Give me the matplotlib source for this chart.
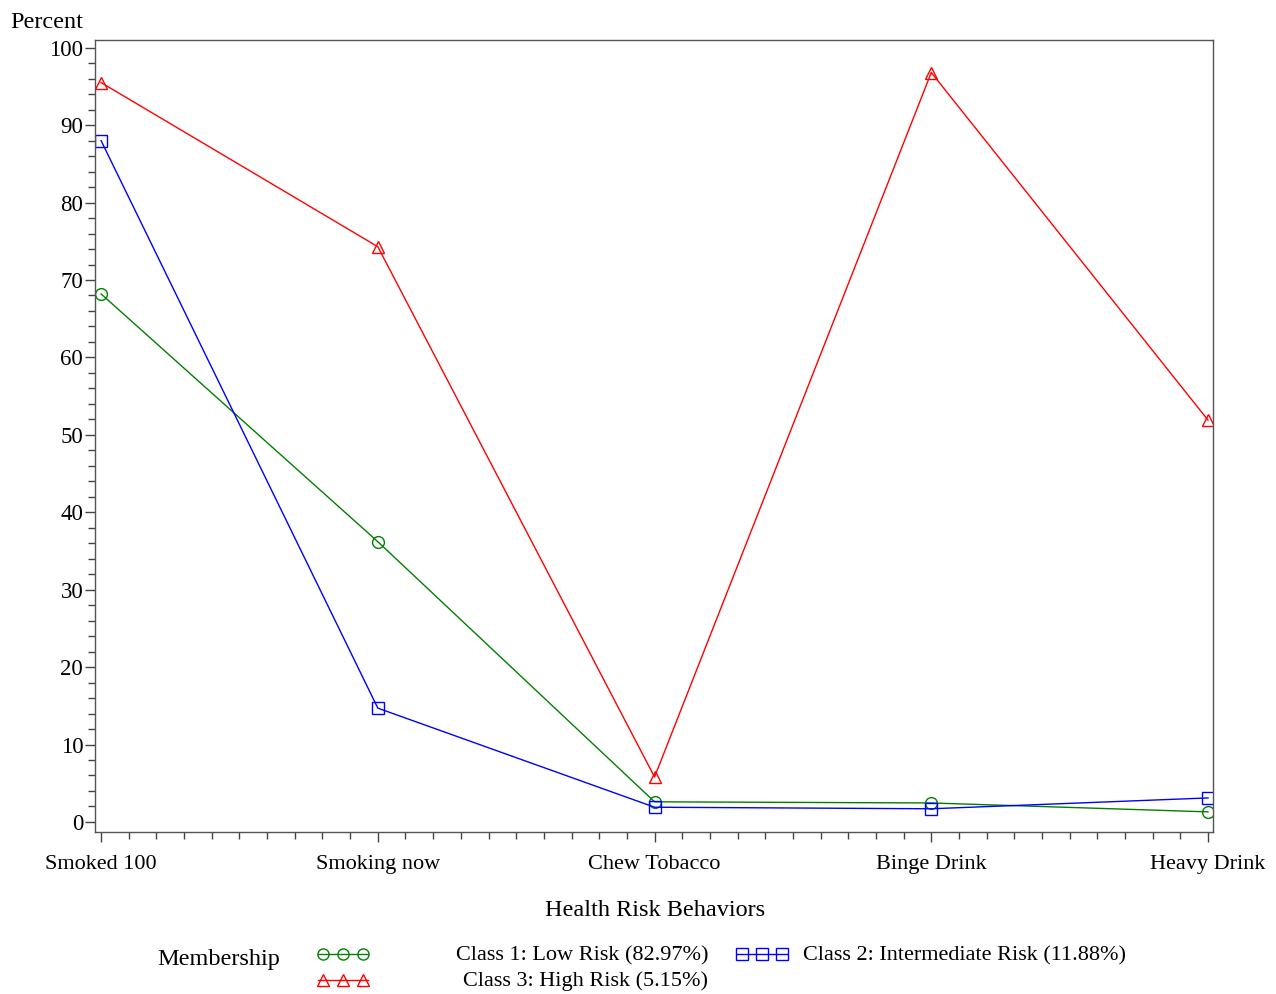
import matplotlib
matplotlib.use('Agg')
import matplotlib.pyplot as plt
from matplotlib.ticker import MultipleLocator
from matplotlib.lines import Line2D

plt.rcParams['font.family'] = ['Liberation Serif', 'DejaVu Serif']

# data
behaviors = ['Smoked 100', 'Smoking now', 'Chew Tobacco', 'Binge Drink', 'Heavy Drink']
class1 = [68.2, 36.2, 2.6, 2.45, 1.3]
class2 = [88.0, 14.7, 1.9, 1.7, 3.1]
class3 = [95.5, 74.3, 5.8, 96.8, 51.9]
class_labels = ['Class 1: Low Risk (82.97%)', 'Class 2: Intermediate Risk (11.88%)',
                'Class 3: High Risk (5.15%)']

W, H = 1276, 994
fig = plt.figure(figsize=(W / 100, H / 100), dpi=100)
ax = fig.add_axes([95 / W, 1 - 832 / H, (1213 - 95) / W, (832 - 40) / H])

x = list(range(len(behaviors)))
styles = [(class1, 'green', 'o'), (class2, 'blue', 's'), (class3, 'red', '^')]
for vals, col, mk in styles:
    ax.plot(x, vals, color=col, lw=1, marker=mk, markersize=8.5,
            markerfacecolor='none', markeredgecolor=col, markeredgewidth=1)

ax.set_xlim(-0.022, 4.018)
ax.set_ylim(-1.3, 101.0)
ax.set_xticks(x)
ax.set_xticklabels(behaviors)
ax.xaxis.set_minor_locator(MultipleLocator(0.1))
ax.set_yticks(range(0, 101, 10))
ax.yaxis.set_minor_locator(MultipleLocator(2))
ax.tick_params(axis='both', which='major', length=7, width=1, color='#444444',
               labelsize=16.5)
ax.tick_params(axis='x', which='major', pad=9.5, labelsize=16)
ax.tick_params(axis='y', which='major', pad=1.5)
ax.tick_params(axis='both', which='minor', length=5, width=1, color='#444444')
for s in ax.spines.values():
    s.set_color('#555555')
    s.set_linewidth(1)

fig.text(10 / W, 1 - 23 / H, 'Percent', fontsize=17.5, ha='left', va='center')
fig.text(655 / W, 1 - 910 / H, 'Health Risk Behaviors', fontsize=17.5, ha='center', va='center')

# legend drawn by hand
fig.text(157 / W, 1 - 960 / H, 'Membership', fontsize=17.5, ha='left', va='center')

def sample(x0, y, col, mk):
    yy = 1 - y / H
    fig.add_artist(Line2D([x0 / W, (x0 + 50) / W], [yy, yy], color=col, lw=1))
    fig.add_artist(Line2D([(x0 + 5) / W, (x0 + 25) / W, (x0 + 45) / W], [yy] * 3,
                          lw=0, marker=mk, markersize=8,
                          markerfacecolor='none', markeredgecolor=col))

sample(318, 954, 'green', 'o')
fig.text(708 / W, 1 - 956 / H, class_labels[0], fontsize=16, ha='right', va='center')
sample(737, 954, 'blue', 's')
fig.text(803 / W, 1 - 956 / H, class_labels[1], fontsize=16, ha='left', va='center')
sample(318, 980, 'red', '^')
fig.text(708 / W, 1 - 981 / H, class_labels[2], fontsize=16, ha='right', va='center')

fig.savefig('out.png', dpi=100)
